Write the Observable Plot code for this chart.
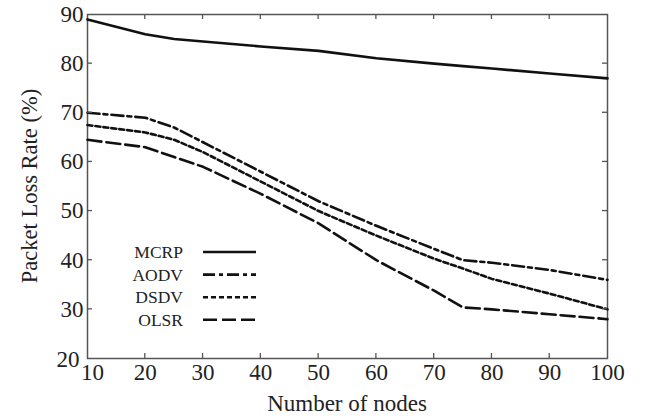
<!DOCTYPE html>
<html><head><meta charset="utf-8">
<script src="https://cdn.jsdelivr.net/npm/d3@7"></script>
<script src="https://cdn.jsdelivr.net/npm/@observablehq/plot@0.6"></script>
<style>
body{margin:0;background:#fff;}
#wrap{position:relative;width:652px;height:418px;font-family:"Liberation Serif","DejaVu Serif",serif;}
#legend{position:absolute;left:128px;top:240px;}
</style></head>
<body><div id="wrap"><div id="chart"></div><div id="legend"></div></div>
<script>
const nodes = [10, 20, 25, 30, 40, 50, 60, 70, 75, 80, 90, 100];
const mcrp = [89, 86, 85, 84.5, 83.5, 82.6, 81.1, 80, 79.5, 79, 78, 77];
const aodv = [70, 69, 67, 64, 58, 52, 47, 42.3, 40, 39.5, 38, 36];
const dsdv = [67.5, 66, 64.5, 62, 56, 50, 45, 40.3, 38.3, 36.2, 33.2, 30];
const olsr = [64.5, 63, 61, 59, 53.5, 47.5, 40, 33.8, 30.4, 30, 29, 28];
const seriesNames = ["MCRP", "AODV", "DSDV", "OLSR"];
const seriesValues = [mcrp, aodv, dsdv, olsr];
const dashes = [null, "12,4,4,4", "5,3", "14,5"];
const xTicks = [10, 20, 30, 40, 50, 60, 70, 80, 90, 100];
const yTicks = [20, 30, 40, 50, 60, 70, 80, 90];

const data = [];
seriesNames.forEach((s, i) => nodes.forEach((n, j) => data.push({series: s, x: n, y: seriesValues[i][j]})));

const font = '"Liberation Serif","DejaVu Serif",serif';
const axisColor = "#555";
const tickOpts = {tickSize: 0, fontSize: 23, fill: "#222", label: null};
const marks = [
  Plot.frame({stroke: axisColor, strokeWidth: 1.5}),
  Plot.axisX(xTicks.slice(1), {anchor: "bottom", tickPadding: 5, ...tickOpts}),
  Plot.axisX(xTicks.slice(0, 1), {anchor: "bottom", tickPadding: 5, dx: 5, ...tickOpts}),
  Plot.axisY(yTicks.slice(1), {anchor: "left", tickPadding: 4, ...tickOpts}),
  Plot.axisY(yTicks.slice(0, 1), {anchor: "left", tickPadding: 4, dx: -4, dy: 1, ...tickOpts})
];
seriesNames.forEach((s, i) => {
  marks.push(Plot.line(data.filter(d => d.series === s), {x: "x", y: "y", stroke: "#111", strokeWidth: 2.6, strokeDasharray: dashes[i], strokeLinejoin: "round"}));
});

const chart = Plot.plot({
  width: 652, height: 418,
  marginLeft: 87, marginRight: 45, marginTop: 14, marginBottom: 60,
  style: {fontFamily: font, background: "#fff"},
  x: {domain: [10, 100], ticks: xTicks, label: null},
  y: {domain: [20, 90], ticks: yTicks, label: null},
  marks
});

// inward ticks on all four sides, positioned via the plot's scales
const svg = d3.select(chart);
const xs = chart.scale("x"), ys = chart.scale("y");
const g = svg.append("g").attr("stroke", axisColor).attr("stroke-width", 1.3);
const T = 5;
xTicks.slice(1, -1).forEach(t => {
  const px = xs.apply(t);
  g.append("line").attr("x1", px).attr("x2", px).attr("y1", ys.apply(20)).attr("y2", ys.apply(20) - T);
  g.append("line").attr("x1", px).attr("x2", px).attr("y1", ys.apply(90)).attr("y2", ys.apply(90) + T);
});
yTicks.slice(1, -1).forEach(t => {
  const py = ys.apply(t);
  g.append("line").attr("y1", py).attr("y2", py).attr("x1", xs.apply(10)).attr("x2", xs.apply(10) + T);
  g.append("line").attr("y1", py).attr("y2", py).attr("x1", xs.apply(100)).attr("x2", xs.apply(100) - T);
});
// axis titles
svg.append("text").attr("x", (xs.apply(10) + xs.apply(100)) / 2).attr("y", 411)
  .attr("text-anchor", "middle").attr("font-size", 23).attr("fill", "#222").attr("font-family", font)
  .text("Number of nodes");
svg.append("text").attr("transform", `translate(37,${(ys.apply(20) + ys.apply(90)) / 2}) rotate(-90)`)
  .attr("text-anchor", "middle").attr("font-size", 22.5).attr("fill", "#222").attr("font-family", font)
  .text("Packet Loss Rate (%)");
document.getElementById("chart").append(chart);

// legend
const lg = d3.select("#legend").append("svg").attr("width", 140).attr("height", 95);
seriesNames.forEach((s, i) => {
  const y = 12 + i * 22.6;
  lg.append("text").attr("x", 55).attr("y", y + 6).attr("text-anchor", "end")
    .attr("font-size", 17.5).attr("font-family", font).attr("fill", "#222").text(s);
  lg.append("line").attr("x1", 75).attr("x2", 128).attr("y1", y).attr("y2", y)
    .attr("stroke", "#111").attr("stroke-width", 2.6).attr("stroke-dasharray", dashes[i]);
});
</script></body></html>
